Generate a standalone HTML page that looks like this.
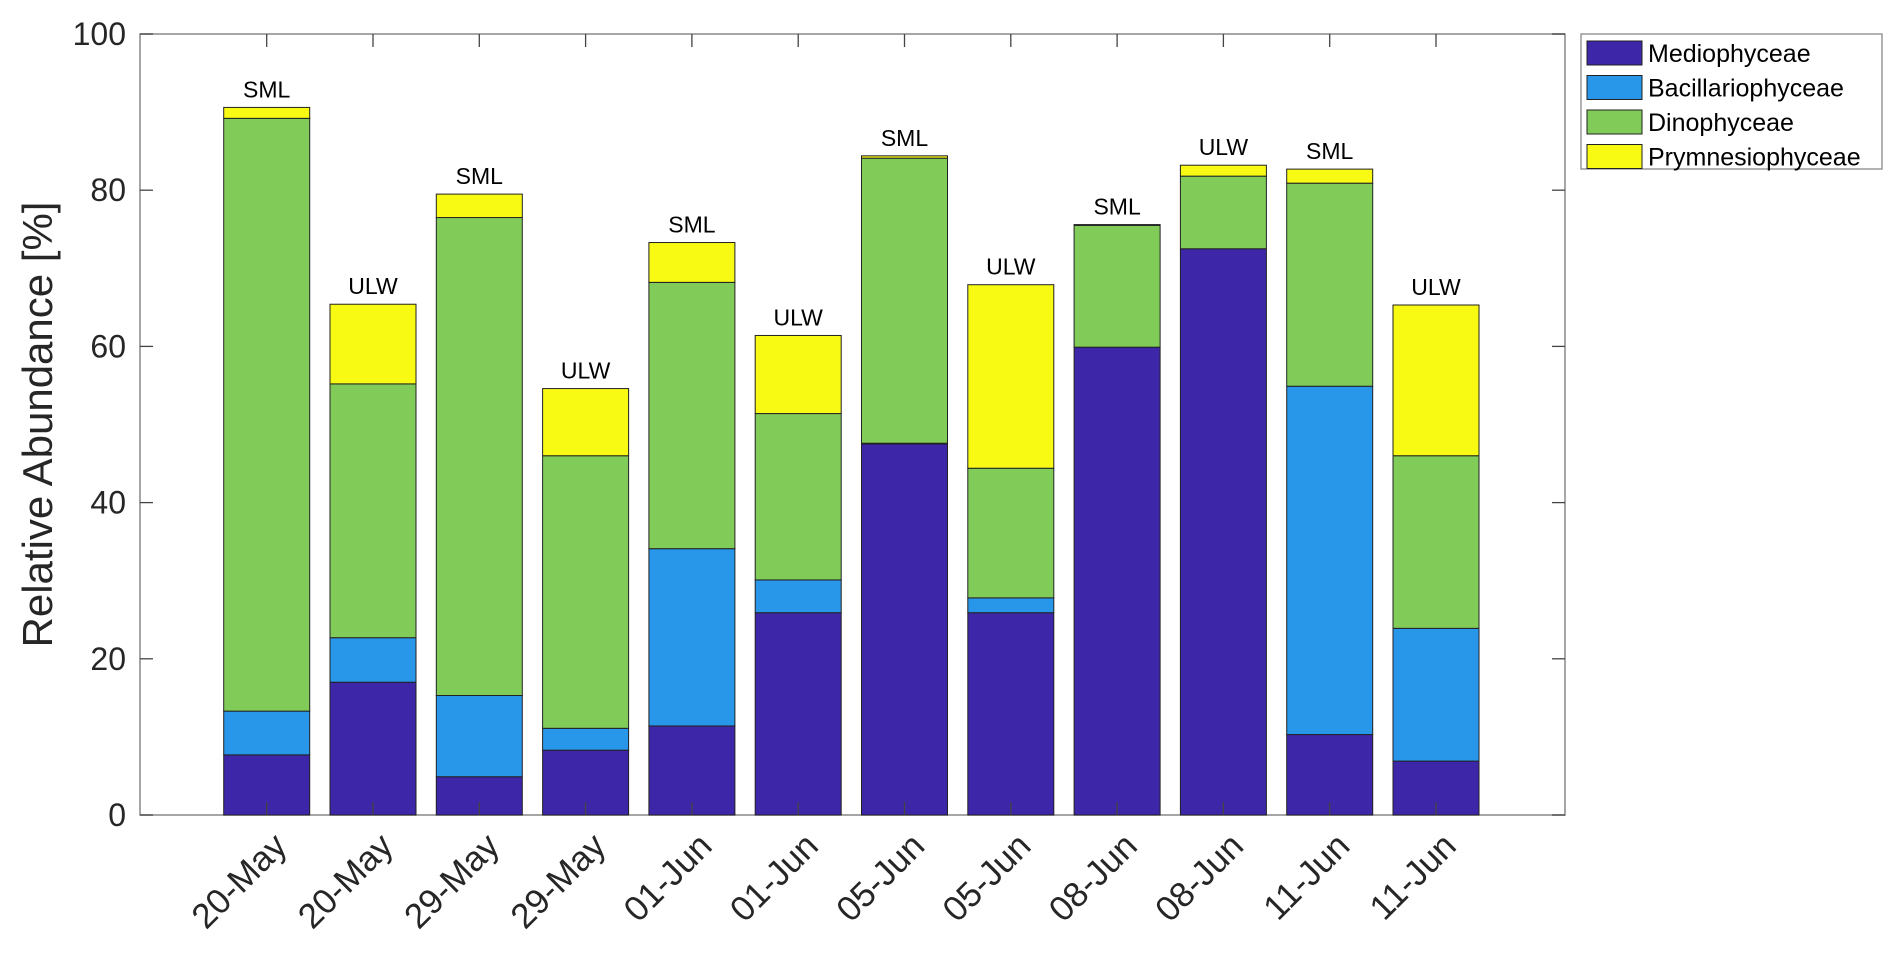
<!DOCTYPE html>
<html><head><meta charset="utf-8"><style>
body{margin:0;background:#fff;}
svg{display:block;font-family:"Liberation Sans",Arial,sans-serif;}
</style></head><body>
<svg id="chart" width="1892" height="960" viewBox="0 0 1892 960" xmlns="http://www.w3.org/2000/svg"></svg>
<script>
const categories = ["20-May","20-May","29-May","29-May","01-Jun","01-Jun","05-Jun","05-Jun","08-Jun","08-Jun","11-Jun","11-Jun"];
const layers = ["SML","ULW","SML","ULW","SML","ULW","SML","ULW","SML","ULW","SML","ULW"];
const seriesNames = ["Mediophyceae","Bacillariophyceae","Dinophyceae","Prymnesiophyceae"];
const mediophyceae     = [7.7, 17.0, 4.9, 8.3, 11.4, 25.9, 47.5, 25.9, 59.9, 72.5, 10.3, 6.9];
const bacillariophyceae= [5.6, 5.7, 10.4, 2.8, 22.7, 4.2, 0.1, 1.9, 0.0, 0.0, 44.6, 17.0];
const dinophyceae      = [75.9, 32.5, 61.2, 34.9, 34.1, 21.3, 36.5, 16.6, 15.6, 9.3, 26.0, 22.1];
const prymnesiophyceae = [1.4, 10.2, 3.0, 8.6, 5.1, 10.0, 0.3, 23.5, 0.1, 1.4, 1.8, 19.3];
const yTicks = [0,20,40,60,80,100];

const colors = ["#3E26A8","#2896E9","#81CC59","#F9FA14"];
const series = [mediophyceae, bacillariophyceae, dinophyceae, prymnesiophyceae];
const svg = document.getElementById('chart');
const NS = "http://www.w3.org/2000/svg";
const L = 140, R = 1565, T = 34, B = 815;
const step = 106.3, x0 = 266.7;
function xPos(i){ return x0 + i * step; }
function yScale(v){ return B - v / 100 * (B - T); }
function el(tag, attrs){ const e = document.createElementNS(NS, tag); for (const k in attrs) e.setAttribute(k, attrs[k]); svg.appendChild(e); return e; }

const box = el('rect', {x:L, y:T, width:R-L, height:B-T, fill:'none', stroke:'#888', 'stroke-width':1.5});



const bw = 86;
categories.forEach((c, i) => {
  let cum = 0;
  series.forEach((s, k) => {
    const y1 = yScale(cum + s[i]), y0 = yScale(cum);
    const r = el('rect', {x: xPos(i) - bw/2, y: y1, width: bw, height: Math.max(0, y0 - y1), fill: colors[k], stroke: '#222', 'stroke-width': 1});
    
    
    cum += s[i];
  });
  const lbl = el('text', {x: xPos(i), y: yScale(cum) - 10, 'font-size': 23, 'text-anchor': 'middle', fill: '#000'});
  lbl.textContent = layers[i];
  
  
  el('line', {x1: xPos(i), x2: xPos(i), y1: B, y2: B - 13, stroke: '#444', 'stroke-width': 1.3});
  el('line', {x1: xPos(i), x2: xPos(i), y1: T, y2: T + 13, stroke: '#444', 'stroke-width': 1.3});
  const t = el('text', {x: 0, y: 0, 'font-size': 35, 'text-anchor': 'end', fill: '#262626', transform: 'translate(' + (xPos(i) + 22) + ',' + (B + 33) + ') rotate(-45)'});
  t.textContent = c;
  
  
});

yTicks.forEach(v => {
  const y = yScale(v);
  el('line', {x1: L, x2: L + 13, y1: y, y2: y, stroke: '#444', 'stroke-width': 1.3});
  el('line', {x1: R, x2: R - 13, y1: y, y2: y, stroke: '#444', 'stroke-width': 1.3});
  const t = el('text', {x: L - 14, y: y + 11, 'font-size': 32, 'text-anchor': 'end', fill: '#262626'});
  t.textContent = v;
  
  
});

const yt = el('text', {x: 0, y: 0, 'font-size': 42, 'text-anchor': 'middle', fill: '#262626', transform: 'translate(52,' + ((T + B) / 2) + ') rotate(-90)'});
yt.textContent = 'Relative Abundance [%]';



const lg = el('rect', {x: 1581, y: 34, width: 301, height: 135, fill: '#fff', stroke: '#888', 'stroke-width': 1.3});


seriesNames.forEach((n, k) => {
  const cy = 53 + k * 34.5;
  const sw = el('rect', {x: 1587, y: cy - 12, width: 55, height: 24, fill: colors[k], stroke: '#222', 'stroke-width': 1});
  
  
  const t = el('text', {x: 1648, y: cy + 9, 'font-size': 25, fill: '#000'});
  t.textContent = n;
  
  
});
</script>
</body></html>
